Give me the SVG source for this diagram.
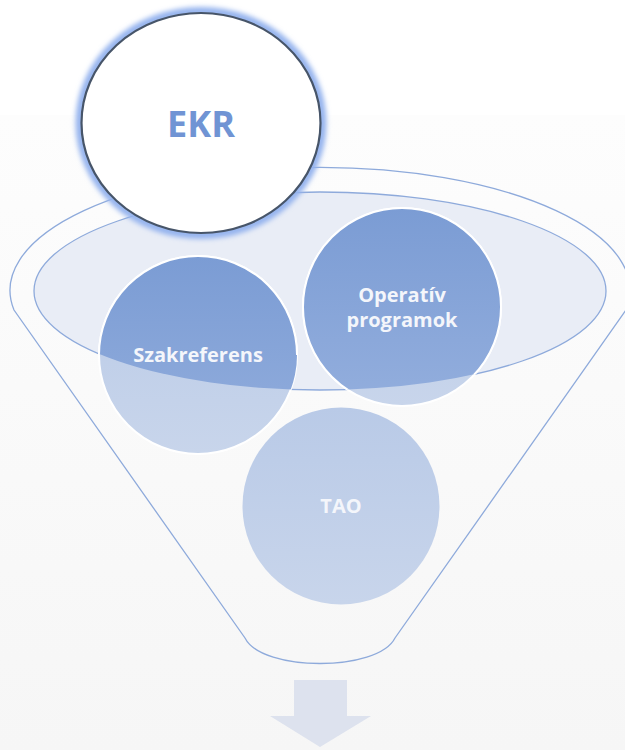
<svg xmlns="http://www.w3.org/2000/svg" width="625" height="750" viewBox="0 0 625 750">
<defs>
  <linearGradient id="bg" x1="0" y1="0" x2="0" y2="1">
    <stop offset="0" stop-color="#fdfdfd"/>
    <stop offset="1" stop-color="#f6f6f6"/>
  </linearGradient>
  <linearGradient id="dark" x1="0" y1="0" x2="0" y2="1">
    <stop offset="0" stop-color="#7b9cd4"/>
    <stop offset="1" stop-color="#93aedd"/>
  </linearGradient>
  <linearGradient id="light" x1="0" y1="0" x2="0" y2="1">
    <stop offset="0" stop-color="#b9cae7"/>
    <stop offset="1" stop-color="#c8d5eb"/>
  </linearGradient>
  <clipPath id="inner">
    <ellipse cx="320" cy="291" rx="286" ry="99"/>
  </clipPath>
  <filter id="glow" x="-20%" y="-20%" width="140%" height="140%">
    <feGaussianBlur stdDeviation="2.5"/>
  </filter>
  <style>
    .edge { fill: none; stroke: #8eaadb; stroke-width: 1.3; }
    .circ { stroke: #ffffff; stroke-width: 2; }
    .lbl { font-family: "Open Sans", "Liberation Sans", sans-serif; font-weight: bold; fill: #f4f6fb; text-anchor: middle; font-size: 20px; }
  </style>
</defs>
<rect x="0" y="0" width="625" height="750" fill="#ffffff"/>
<rect x="0" y="115" width="625" height="635" fill="url(#bg)"/>

<g id="funnel">
  <path class="edge" d="M 14,310 A 310 123 0 1 1 626,310 L 395,638 C 378,672 262,672 245,638 Z"/>
  <ellipse cx="320" cy="291" rx="286" ry="99" fill="#e9edf6" stroke="#8eaadb" stroke-width="1.3"/>
</g>

<g id="szakreferens">
  <circle class="circ" cx="198" cy="355" r="99" fill="url(#light)"/>
  <circle cx="198" cy="355" r="99" fill="url(#dark)" clip-path="url(#inner)"/>
  <path d="M 99,355 A 99 99 0 0 1 297,355" fill="none" stroke="#ffffff" stroke-width="2" clip-path="url(#inner)"/>
  <text class="lbl" x="198" y="362">Szakreferens</text>
</g>

<g id="operativ">
  <circle class="circ" cx="402" cy="307" r="99" fill="url(#light)"/>
  <circle cx="402" cy="307" r="99" fill="url(#dark)" clip-path="url(#inner)" stroke="#ffffff" stroke-width="2"/>
  <text class="lbl" x="402" y="302">Operatív</text>
  <text class="lbl" x="402" y="327">programok</text>
</g>

<g id="tao">
  <circle cx="341" cy="506" r="98.5" fill="url(#light)"/>
  <text class="lbl" x="341" y="513">TAO</text>
</g>

<g id="ekr">
  <ellipse cx="201" cy="123" rx="121" ry="111.5" fill="none" stroke="#94b3ee" stroke-width="9" filter="url(#glow)"/>
  <ellipse cx="201" cy="123" rx="119.5" ry="110" fill="#ffffff" stroke="#475569" stroke-width="2.2"/>
  <text x="201" y="137" font-family="'Open Sans', 'Liberation Sans', sans-serif" font-weight="bold" font-size="36" fill="#7094d4" text-anchor="middle">EKR</text>
</g>

<g id="connectors">
  <path d="M 294,680 L 347,680 L 347,716 L 371,716 L 320,747 L 270,716 L 294,716 Z" fill="#dde2ee"/>
</g>
</svg>
